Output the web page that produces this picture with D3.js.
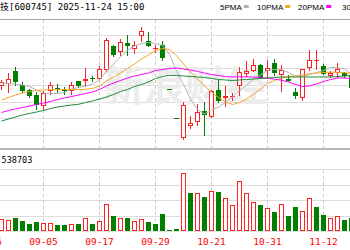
<!DOCTYPE html>
<html>
<head>
<meta charset="utf-8">
<script src="https://cdn.jsdelivr.net/npm/d3@7"></script>
<style>
  body { margin: 0; background: #fff; }
  svg { display: block; }
</style>
</head>
<body>
<div id="chart-area"></div>
<script>

// Data

var titleText = "闻泰科技[600745] 2025-11-24 15:00";
var volumeText = "成交量:538703";
var watermarkText = "新浪财经";
var maNames = ["5PMA", "10PMA", "20PMA", "30PMA"];
var dateLabels = ["08-26", "09-05", "09-17", "09-29", "10-21", "10-31", "11-12"];
var dateIndex = [-2, 6, 14, 22, 30, 38, 46];

var prevClose = 43.2;
var openPrices = [42.8, 43.2, 45.9, 43.0, 42.0, 41.0, 38.8, 41.8, 42.4, 42.0,
	41.8, 43.7, 43.8, 44.5, 44.3, 46.1, 50.8, 49.7, 51.5, 50.2,
	52.9, 51.9, 50.3, 51.0, 42.2, 36.4, 32.34, 34.86, 35.66, 37.8,
	36.6, 42.1, 40.46, 40.76, 42.7, 45.2, 45.86, 46.94, 45.74, 47.34,
	45.0, 44.3, 41.66, 40.5, 46.34, 47.9, 46.7, 44.8, 45.5, 45.34, 45.1];
var closePrices = [43.6, 44.2, 43.6, 41.9, 40.7, 39.0, 41.4, 43.0, 42.34, 41.8,
	43.1, 42.7, 44.3, 44.25, 46.3, 52.0, 49.0, 51.6, 50.8, 51.06,
	53.8, 50.9, 50.4, 48.34, 42.2, 36.4, 39.0, 35.5, 37.6, 37.0,
	41.9, 39.9, 40.8, 40.84, 45.64, 45.7, 47.0, 44.5, 46.34, 45.46,
	46.0, 43.86, 40.86, 46.14, 48.0, 47.95, 45.3, 45.34, 46.14, 44.86, 42.4];
var highPrices = [44.0, 45.4, 46.6, 43.6, 42.2, 41.6, 41.7, 43.6, 43.3, 42.6,
	43.66, 43.9, 46.5, 44.9, 46.7, 52.34, 51.0, 52.3, 53.0, 51.9,
	54.6, 53.6, 51.0, 51.8, 42.2, 36.4, 39.7, 36.8, 39.3, 39.6,
	42.0, 44.0, 42.8, 41.5, 46.6, 47.7, 48.14, 47.14, 48.1, 48.3,
	47.0, 45.0, 42.34, 46.2, 50.0, 50.0, 47.14, 45.8, 47.34, 45.66, 45.2];
var lowPrices = [42.2, 41.6, 43.0, 41.6, 40.6, 38.2, 38.2, 41.2, 41.6, 41.2,
	41.3, 42.6, 42.7, 43.9, 44.2, 45.8, 48.9, 49.1, 49.0, 49.4,
	51.8, 50.8, 49.6, 48.0, 42.2, 36.4, 32.3, 34.4, 35.1, 33.0,
	36.6, 39.6, 38.8, 40.0, 41.0, 44.8, 45.7, 44.4, 44.4, 45.0,
	41.8, 43.8, 40.34, 40.0, 46.0, 46.2, 45.2, 44.7, 44.7, 44.7, 42.4];
var volumes = [240000, 220000, 266000, 200000, 134000, 180000, 166000, 166000, 114000, 114000,
	134000, 134000, 254000, 134000, 200000, 540000, 300000, 266000, 266000, 200000,
	240000, 186000, 134000, 334000, 20000, 34000, 1154000, 754000, 754000, 674000,
	800000, 774000, 654000, 520000, 1000000, 754000, 574000, 520000, 454000, 374000,
	534000, 306000, 474000, 400000, 654000, 474000, 320000, 254000, 306000, 220000, 254000];

var ma5 = [43.4, 43.3, 43.2, 43.0, 42.7, 42.0, 41.4, 41.3, 41.3, 41.5,
	42.2, 42.5, 42.8, 43.2, 44.0, 45.8, 47.2, 48.7, 50.0, 50.8,
	51.3, 51.5, 51.3, 50.9, 49.1, 45.8, 43.1, 40.2, 38.1, 37.2,
	38.0, 38.6, 39.5, 40.6, 41.9, 42.9, 44.2, 45.0, 45.9, 46.1,
	46.1, 45.5, 44.8, 44.7, 45.1, 45.5, 45.9, 46.5, 46.5, 46.2, 45.2];
var ma10 = [40.0, 40.5, 41.0, 41.4, 41.7, 41.9, 42.0, 42.04, 42.1, 42.1,
	42.1, 42.1, 42.14, 42.3, 42.8, 43.8, 44.6, 45.4, 46.3, 47.2,
	48.2, 49.0, 49.9, 50.3, 50.1, 48.9, 47.2, 45.6, 44.2, 42.8,
	41.6, 40.5, 39.6, 39.1, 39.5, 40.2, 41.1, 42.2, 43.3, 43.9,
	44.36, 44.7, 44.8, 44.94, 45.24, 45.4, 45.5, 45.56, 45.54, 45.44, 45.36];
var ma20 = [37.5, 37.9, 38.2, 38.5, 38.8, 39.1, 39.4, 39.7, 40.1, 40.4,
	40.7, 41.0, 41.3, 41.6, 42.1, 42.8, 43.4, 43.9, 44.4, 44.8,
	45.1, 45.4, 45.9, 46.1, 46.3, 46.4, 46.2, 46.0, 45.7, 45.4,
	45.1, 44.9, 44.7, 44.6, 44.64, 44.64, 44.6, 44.5, 44.34, 44.16,
	43.96, 43.6, 43.1, 42.7, 42.8, 43.2, 43.7, 44.1, 44.4, 44.4, 44.3];
var ma30 = [35.8, 36.2, 36.6, 37.0, 37.3, 37.6, 37.9, 38.3, 38.6, 38.8,
	39.0, 39.14, 39.5, 39.8, 40.2, 40.6, 41.1, 41.7, 42.1, 42.7,
	43.1, 43.6, 44.3, 44.7, 44.94, 44.9, 44.8, 44.7, 44.6, 44.5,
	44.3, 44.1, 44.0, 43.9, 44.0, 44.1, 44.2, 44.3, 44.4, 44.5,
	44.6, 44.6, 44.6, 44.6, 44.6, 44.6, 44.6, 44.6, 44.7, 44.8, 44.9];

var priceTicks = [53, 49.67, 46.33, 43, 39.67, 36.33, 33];
var volumeTicks = [310000, 620000, 930000, 1240000];

// Setup

var width = 350;
var height = 250;
var red = "#f22";
var green = "#007f00";
var maColors = ["#b4b4b4", "#f5a623", "#ff00ff", "#1e8c3a"];
var mono = "'DejaVu Sans Mono', 'Noto Sans CJK SC', monospace";

var svg = d3.select("#chart-area").append("svg")
	.attr("width", width)
	.attr("height", height);

var x = d3.scaleLinear().domain([0, 50]).range([1.5, 351.5]);
var y = d3.scaleLinear().domain([30.2, 56.2]).range([149, 19]);
var yVol = d3.scaleLinear().domain([0, 1240000]).range([231, 169]);

var data = openPrices.map((o, i) => {
	var c = closePrices[i];
	var prev = i > 0 ? closePrices[i - 1] : prevClose;
	return {
		i: i, open: o, close: c, high: highPrices[i], low: lowPrices[i], volume: volumes[i],
		up: c > o || (c === o && c >= prev),
		volUp: c >= prev
	};
});

var px = (i) => Math.floor(x(i));

// Grid

var grid = svg.append("g");
grid.selectAll(".hgrid").data(priceTicks).enter()
	.append("line")
		.attr("x1", 0).attr("x2", width)
		.attr("y1", (d) => Math.round(y(d)) + 0.5)
		.attr("y2", (d) => Math.round(y(d)) + 0.5)
		.attr("stroke", "#dcdcdc");

grid.selectAll(".vgrid").data(volumeTicks).enter()
	.append("line")
		.attr("x1", 0).attr("x2", width)
		.attr("y1", (d) => Math.round(yVol(d)) + 0.5)
		.attr("y2", (d) => Math.round(yVol(d)) + 0.5)
		.attr("stroke", "#dcdcdc");

grid.append("line")
	.attr("x1", 0).attr("x2", width)
	.attr("y1", yVol(0) + 0.5).attr("y2", yVol(0) + 0.5)
	.attr("stroke", "#e2e2e2");

var dashIdx = dateIndex.filter((d) => d >= 0);
[[20, 149], [170, 231]].forEach((seg) => {
	grid.selectAll(null).data(dashIdx).enter()
		.append("line")
			.attr("x1", (d) => px(d) + 0.5).attr("x2", (d) => px(d) + 0.5)
			.attr("y1", seg[0]).attr("y2", seg[1])
			.attr("stroke", "#c8c8c8")
			.attr("stroke-dasharray", "3,3");
});

svg.append("line")
	.attr("x1", 0).attr("x2", width).attr("y1", 19.5).attr("y2", 19.5)
	.attr("stroke", "#a8a8a8");
svg.append("line")
	.attr("x1", 0).attr("x2", width).attr("y1", 149).attr("y2", 149)
	.attr("stroke", "#b8b8b8").attr("stroke-width", 2);

// Watermark

svg.append("text")
	.attr("x", 103).attr("y", 101)
	.attr("font-family", "'Noto Sans CJK SC'")
	.attr("font-weight", "bold")
	.attr("font-size", "41px")
	.attr("fill", "#ececec")
	.text(watermarkText);

// Candles

var candles = svg.append("g");
candles.selectAll(".wick").data(data).enter()
	.append("line")
		.attr("x1", (d) => px(d.i) + 0.5).attr("x2", (d) => px(d.i) + 0.5)
		.attr("y1", (d) => Math.round(y(d.high)))
		.attr("y2", (d) => Math.round(y(d.low)) + 1)
		.attr("stroke", (d) => d.up ? red : green);

candles.selectAll(".body").data(data).enter()
	.append("rect")
		.each(function(d) {
			var top = Math.round(y(Math.max(d.open, d.close)));
			var bot = Math.round(y(Math.min(d.open, d.close)));
			var el = d3.select(this);
			if (d.up && bot - top >= 2) {
				el.attr("x", px(d.i) - 1.5).attr("y", top + 0.5)
					.attr("width", 4).attr("height", bot - top - 1)
					.attr("fill", "#fff").attr("stroke", red);
			} else {
				el.attr("x", px(d.i) - 2).attr("y", top)
					.attr("width", 5).attr("height", Math.max(1, bot - top))
					.attr("fill", d.up ? red : green);
			}
		});

// Moving averages

[ma5, ma10, ma20, ma30].forEach((series, k) => {
	svg.append("path")
		.datum(series)
		.attr("fill", "none")
		.attr("stroke", maColors[k])
		.attr("stroke-width", 1)
		.attr("d", d3.line().x((d, i) => x(i)).y((d) => y(d)));
});

// Volume

svg.append("g").selectAll("rect").data(data).enter()
	.append("rect")
		.each(function(d) {
			var top = Math.round(yVol(d.volume));
			var el = d3.select(this);
			if (d.volUp) {
				el.attr("x", px(d.i) - 1.5).attr("y", top + 0.5)
					.attr("width", 4).attr("height", Math.max(0, 230 - top))
					.attr("fill", "#fff").attr("stroke", red);
			} else {
				el.attr("x", px(d.i) - 2).attr("y", top)
					.attr("width", 5).attr("height", Math.max(1, 231 - top))
					.attr("fill", green);
			}
		});

// Texts

svg.append("text")
	.attr("x", -27).attr("y", 10)
	.attr("font-family", mono).attr("font-size", "9px")
	.attr("fill", "#000")
	.text(titleText);

var legendX = [220, 257, 298, 342];
maNames.forEach((name, k) => {
	var t = svg.append("text")
		.attr("x", legendX[k]).attr("y", 10)
		.attr("font-family", "'Liberation Sans', Arial, sans-serif")
		.attr("font-size", "8px")
		.attr("fill", "#000")
		.text(name);
	var w = t.node().getComputedTextLength();
	svg.append("rect")
		.attr("x", legendX[k] + w + 2).attr("y", 5)
		.attr("width", 5).attr("height", 3)
		.attr("fill", maColors[k]);
});

svg.append("text")
	.attr("x", -29).attr("y", 163)
	.attr("font-family", mono).attr("font-size", "8.5px")
	.attr("fill", "#000")
	.text(volumeText);

svg.append("g").selectAll("text").data(dateLabels).enter()
	.append("text")
		.attr("x", (d, i) => px(dateIndex[i]) + 0.5)
		.attr("y", 245)
		.attr("text-anchor", "middle")
		.attr("font-family", mono).attr("font-size", "9.5px")
		.attr("fill", "#f00")
		.text((d) => d);

</script>
</body>
</html>
